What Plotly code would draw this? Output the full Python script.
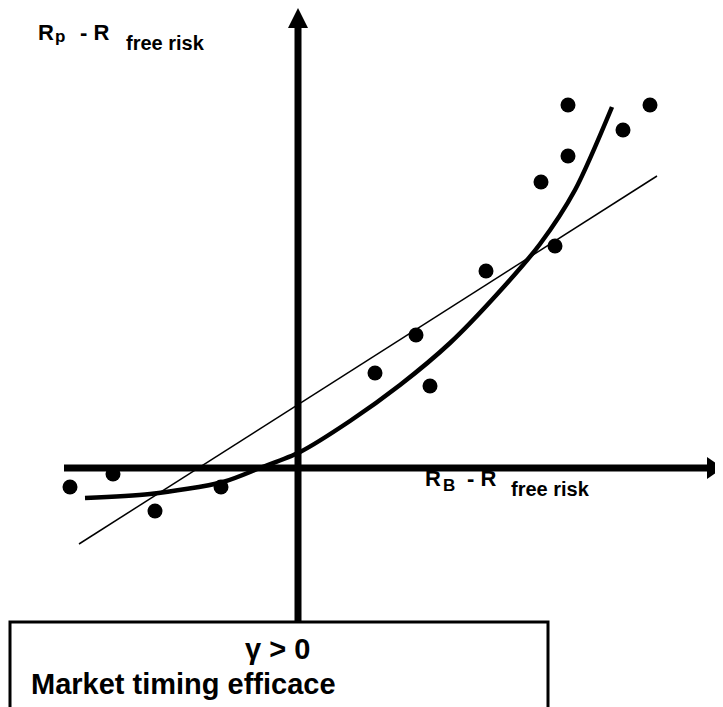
import plotly.graph_objects as go

W, H = 723, 707          # browser window
PAD = 8                  # default body margin of the html page
FW, FH = W - PAD, H - PAD

# ---- data (units: excess returns, arbitrary scale) ----
obs_x = [-5.70, -4.625, -3.575, -1.925, 1.925, 2.95, 3.30, 4.70, 6.075, 6.425, 6.75, 6.75, 8.125, 8.80]
obs_y = [-0.475, -0.15, -1.075, -0.475, 2.375, 3.325, 2.05, 4.925, 7.15, 5.55, 7.8, 9.075, 8.45, 9.075]

# linear (CAPM) fit line end points
lin_x = [-5.475, 8.975]
lin_y = [-1.90, 7.30]

# quadratic (market timing) curve
curve_x = [-5.325, -3.70, -1.875, -0.95, 0.05, 1.30, 2.55, 3.80, 5.05, 6.05, 6.925, 7.85]
curve_y = [-0.75, -0.65, -0.35, 0.0, 0.40, 1.175, 2.075, 3.125, 4.425, 5.60, 6.95, 9.025]

# ---- geometry: page pixels -> units ----
OX, OY, K = 298, 468, 40.0
x_range = [(PAD - OX) / K, (W - OX) / K]
y_range = [(OY - H) / K, (OY - PAD) / K]

def ux(p):
    return (p - OX) / K

def uy(p):
    return (OY - p) / K

def fx(p):
    return (p - PAD) / FW

def fy(p):
    return 1 - (p - PAD) / FH

fig = go.Figure()

fig.add_trace(go.Scatter(x=lin_x, y=lin_y, mode="lines",
                         line=dict(color="black", width=1.5), hoverinfo="skip"))
fig.add_trace(go.Scatter(x=curve_x, y=curve_y, mode="lines",
                         line=dict(color="black", width=4.5, shape="spline", smoothing=0.8),
                         hoverinfo="skip"))
fig.add_trace(go.Scatter(x=obs_x, y=obs_y, mode="markers",
                         marker=dict(color="black", size=15), hoverinfo="skip"))

shapes = []
# horizontal axis
shapes.append(dict(type="line", xref="x", yref="y", x0=ux(64), x1=ux(709), y0=0, y1=0,
                   line=dict(color="black", width=7)))
shapes.append(dict(type="path", xref="x", yref="y",
                   path=f"M {ux(707)} {uy(457)} L {ux(723)} {uy(468)} L {ux(707)} {uy(479)} Z",
                   fillcolor="black", line=dict(color="black", width=0)))
# vertical axis
shapes.append(dict(type="line", xref="x", yref="y", x0=0, x1=0, y0=uy(622), y1=uy(26),
                   line=dict(color="black", width=7)))
shapes.append(dict(type="path", xref="x", yref="y",
                   path=f"M {ux(288)} {uy(28)} L {ux(298)} {uy(8)} L {ux(308)} {uy(28)} Z",
                   fillcolor="black", line=dict(color="black", width=0)))
# box
shapes.append(dict(type="rect", xref="paper", yref="paper",
                   x0=fx(10), x1=fx(548), y0=fy(730), y1=fy(622),
                   line=dict(color="black", width=3), fillcolor="white", layer="above"))

FONT = "Liberation Sans, Arial, sans-serif"
annotations = []

def text_at(txt, size, x, baseline, anchor="left"):
    bottom = baseline + 0.212 * size
    annotations.append(dict(text=f"<b>{txt}</b>", xref="paper", yref="paper",
                            x=fx(x), y=fy(bottom), xanchor=anchor, yanchor="bottom",
                            showarrow=False, borderpad=0,
                            font=dict(family=FONT, size=size, color="black")))

# y-axis label
text_at("R", 22, 37, 41)
text_at("p", 17, 54, 43)
text_at("- R", 22, 79, 41)
text_at("free risk", 20, 125, 51)
# x-axis label
text_at("R", 22, 424, 487)
text_at("B", 17, 442, 492)
text_at("- R", 22, 466, 487)
text_at("free risk", 20, 510, 497)
# box text
text_at("γ &gt; 0", 29, 277, 660, anchor="center")
text_at("Market timing efficace", 29, 30, 695)

fig.update_layout(
    width=FW, height=FH, margin=dict(l=0, r=0, t=0, b=0),
    paper_bgcolor="white", plot_bgcolor="white", showlegend=False,
    xaxis=dict(range=x_range, visible=False, fixedrange=True),
    yaxis=dict(range=y_range, visible=False, fixedrange=True),
    shapes=shapes, annotations=annotations,
)

fig.write_html("out.html")
